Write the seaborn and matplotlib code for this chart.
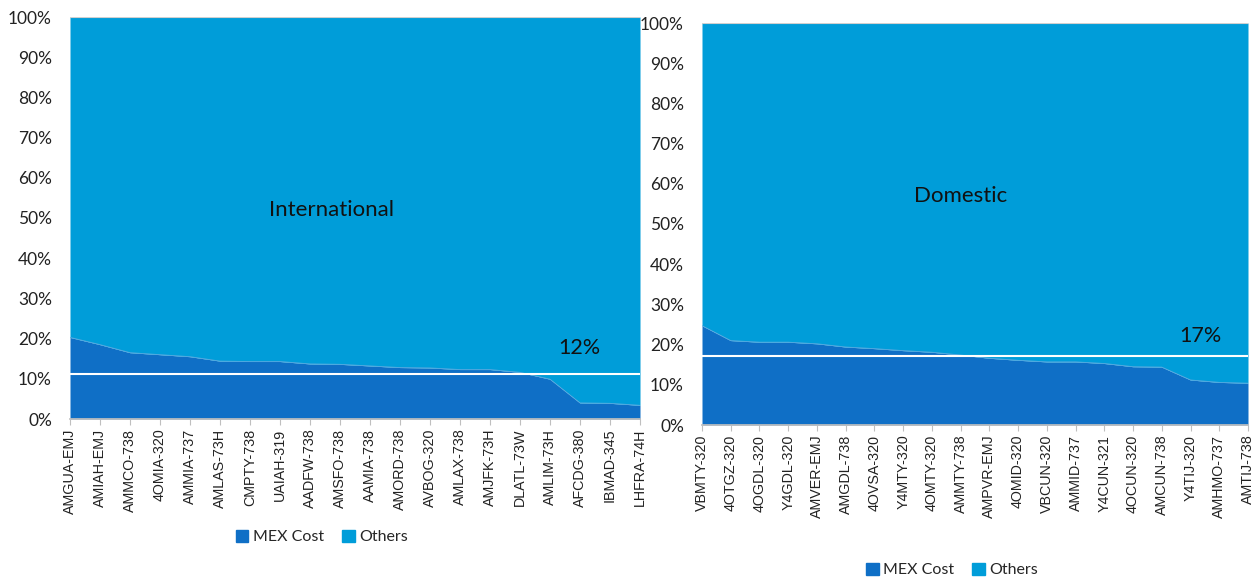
import numpy as np
import pandas as pd
import seaborn as sns
import matplotlib.pyplot as plt
import matplotlib.ticker as ticker
from matplotlib.patches import Patch

# International routes, MEX cost share (%)
intl_routes = ["AMGUA-EMJ", "AMIAH-EMJ", "AMMCO-738", "4OMIA-320", "AMMIA-737",
               "AMLAS-73H", "CMPTY-738", "UAIAH-319", "AADFW-738", "AMSFO-738",
               "AAMIA-738", "AMORD-738", "AVBOG-320", "AMLAX-738", "AMJFK-73H",
               "DLATL-73W", "AMLIM-73H", "AFCDG-380", "IBMAD-345", "LHFRA-74H"]
intl_mex = [20.3, 18.5, 16.5, 16.0, 15.5, 14.4, 14.3, 14.3, 13.7, 13.6,
            13.2, 12.8, 12.7, 12.3, 12.3, 11.6, 9.9, 4.0, 3.9, 3.4]
intl_avg = 11.3
intl_avg_label = "12%"

# Domestic routes, MEX cost share (%)
dom_routes = ["VBMTY-320", "4OTGZ-320", "4OGDL-320", "Y4GDL-320", "AMVER-EMJ",
              "AMGDL-738", "4OVSA-320", "Y4MTY-320", "4OMTY-320", "AMMTY-738",
              "AMPVR-EMJ", "4OMID-320", "VBCUN-320", "AMMID-737", "Y4CUN-321",
              "4OCUN-320", "AMCUN-738", "Y4TIJ-320", "AMHMO-737", "AMTIJ-738"]
dom_mex = [24.7, 21.0, 20.6, 20.6, 20.2, 19.4, 19.0, 18.5, 18.1, 17.4,
           16.6, 16.1, 15.7, 15.7, 15.3, 14.5, 14.4, 11.2, 10.6, 10.4]
dom_avg = 17.1
dom_avg_label = "17%"

mex_color = "#0F6FC6"
others_color = "#009DD9"

sns.set_theme(style="white")
plt.rcParams["font.family"] = ["Lato", "DejaVu Sans"]

fig = plt.figure(figsize=(12.51, 5.77), dpi=100)
ax_l = fig.add_axes([70 / 1251, 1 - 419 / 577, 570 / 1251, 402 / 577])
ax_r = fig.add_axes([702 / 1251, 1 - 425 / 577, 546 / 1251, 402 / 577])


def draw_panel(ax, routes, mex, avg, avg_label, title, title_xy, label_xy, legend_xy):
    df = pd.DataFrame({"route": routes, "pos": np.arange(len(routes)), "mex": mex})
    df["total"] = 100.0
    # stacked area: MEX cost at the bottom, others on top up to 100%
    ax.fill_between(df["pos"], 0, df["mex"], color=mex_color, linewidth=0)
    ax.fill_between(df["pos"], df["mex"], df["total"], color=others_color, linewidth=0)
    sns.lineplot(data=df, x="pos", y="mex", ax=ax, color="#5aa9e0", linewidth=0.6)
    ax.axhline(avg, color="white", linewidth=1.5)
    ax.axhline(100, color="#d0d0d0", linewidth=0.8)

    ax.set_xlim(0, len(routes) - 1)
    ax.set_ylim(0, 100)
    ax.yaxis.set_major_locator(ticker.MultipleLocator(10))
    ax.yaxis.set_major_formatter(ticker.FuncFormatter(lambda v, p: "{:.0f}%".format(v)))
    ax.set_xticks(df["pos"])
    ax.set_xticklabels(routes, rotation=90, family="Liberation Sans", fontsize=10.3,
                       color="#222222")
    ax.tick_params(axis="y", labelsize=12.5, colors="#222222", length=0, pad=13)
    ax.tick_params(axis="x", length=4, width=0.8, color="#bfbfbf", pad=3,
                   bottom=True)
    for s in ["top", "right", "left"]:
        ax.spines[s].set_visible(False)
    ax.spines["bottom"].set_color("#bfbfbf")
    ax.set_xlabel("")
    ax.set_ylabel("")

    ax.text(title_xy[0], title_xy[1], title, fontsize=16, color="#111111",
            ha="center", va="center")
    ax.text(label_xy[0], label_xy[1], avg_label, fontsize=15.5, color="#111111",
            ha="center", va="center")

    handles = [Patch(color=mex_color, label="MEX Cost"),
               Patch(color=others_color, label="Others")]
    ax.legend(handles=handles, loc="center", bbox_to_anchor=legend_xy,
              ncol=2, frameon=False, fontsize=11.5, handlelength=0.8,
              handleheight=0.8, handletextpad=0.3, columnspacing=1.1)


draw_panel(ax_l, intl_routes, intl_mex, intl_avg, intl_avg_label, "International",
           (8.73, 52), (16.97, 17.7), (0.442, -0.2935))
draw_panel(ax_r, dom_routes, dom_mex, dom_avg, dom_avg_label, "Domestic",
           (9.0, 57), (17.36, 22.1), (0.458, -0.361))

fig.savefig("out.png", dpi=100)
